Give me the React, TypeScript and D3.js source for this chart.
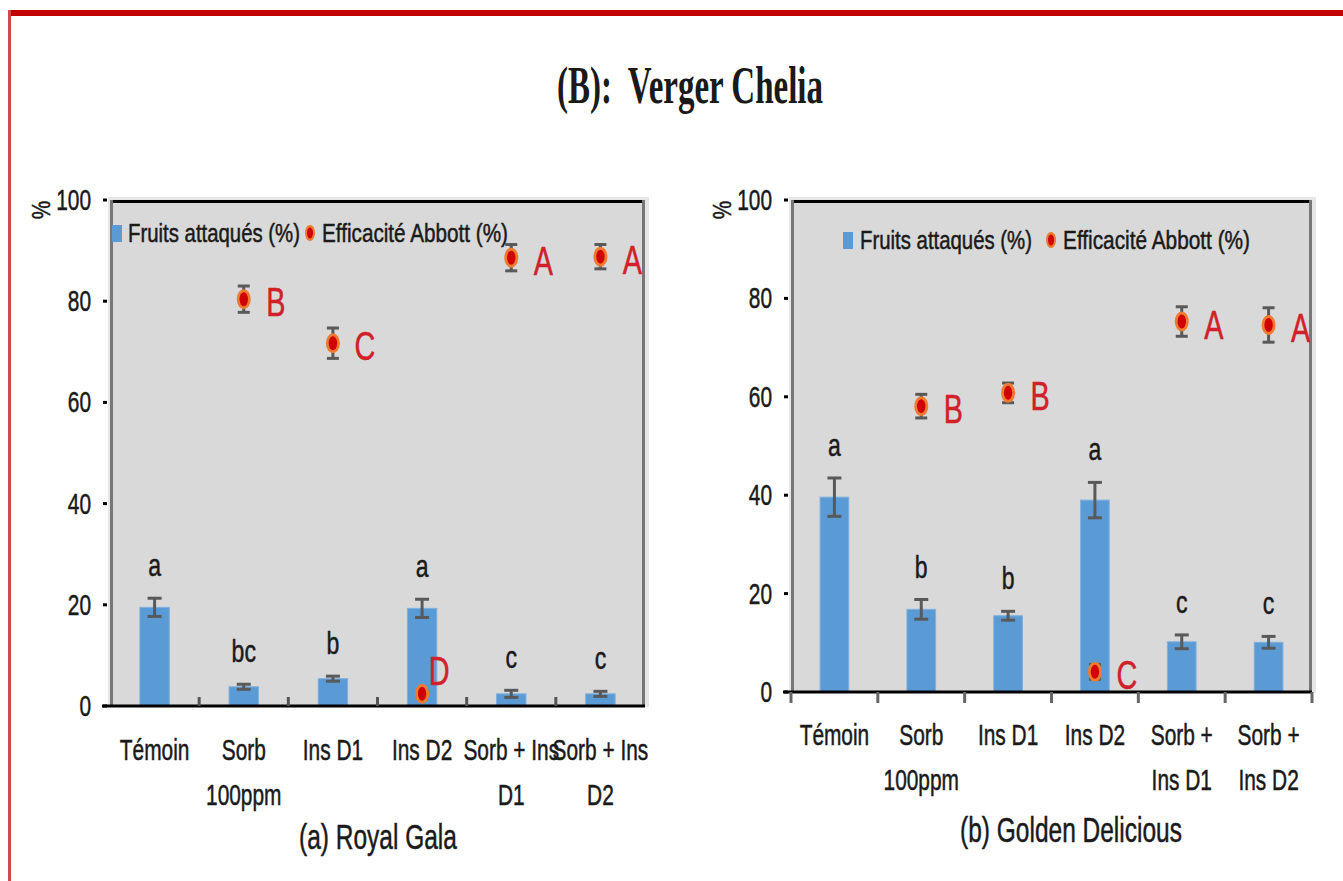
import * as d3 from 'd3';

// Categories (label lines) for each orchard variety
const categoriesRoyal = [['Témoin'], ['Sorb', '100ppm'], ['Ins D1'], ['Ins D2'], ['Sorb + Ins', 'D1'], ['Sorb + Ins', 'D2']];
const categoriesGolden = [['Témoin'], ['Sorb', '100ppm'], ['Ins D1'], ['Ins D2'], ['Sorb +', 'Ins D1'], ['Sorb +', 'Ins D2']];

// (a) Royal Gala
const attackRoyal = [19.5, 3.8, 5.4, 19.3, 2.4, 2.4];
const attackErrRoyal = [1.8, 0.5, 0.5, 1.8, 0.7, 0.5];
const attackLettersRoyal = ['a', 'bc', 'b', 'a', 'c', 'c'];
const abbottRoyal = [null, 80.4, 71.7, 2.4, 88.6, 88.8];
const abbottErrRoyal = [0, 2.6, 3, 0.8, 2.6, 2.4];
const abbottLettersRoyal = ['', 'B', 'C', 'D', 'A', 'A'];

// (b) Golden Delicious
const attackGolden = [39.6, 16.8, 15.5, 39, 10.2, 10.1];
const attackErrGolden = [3.9, 2, 0.9, 3.6, 1.4, 1.2];
const attackLettersGolden = ['a', 'b', 'b', 'a', 'c', 'c'];
const abbottGolden = [null, 58.1, 60.8, 4.1, 75.3, 74.6];
const abbottErrGolden = [0, 2.4, 2, 1.5, 3, 3.5];
const abbottLettersGolden = ['', 'B', 'B', 'C', 'A', 'A'];

const yTicks = [0, 20, 40, 60, 80, 100];
const legendLabels = ['Fruits attaqués (%)', 'Efficacité Abbott (%)'];

const FONT = '"Liberation Sans", Arial, sans-serif';
const SX = 0.72; // the source picture is squeezed horizontally
const BLUE = '#5b9bd5';
const GREY_BG = '#d9d9d9';
const ERR = '#595959';
const RED = '#d0202a';
const INK = '#1a1a1a';

type TxtProps = {
  x: number;
  y: number;
  size: number;
  anchor?: 'start' | 'middle' | 'end';
  fill?: string;
  sx?: number;
  len?: number;
  rotate?: number;
  family?: string;
  weight?: string | number;
  heavy?: number;
  children: string;
};

const Txt = ({ x, y, size, anchor = 'middle', fill = INK, sx = SX, len, rotate = 0, family = FONT, weight = 'normal', heavy = 0.5, children }: TxtProps) => (
  <text
    transform={`translate(${x},${y}) rotate(${rotate}) scale(${len ? 1 : sx},1)`}
    textAnchor={anchor}
    fontSize={size}
    fontFamily={family}
    fontWeight={weight}
    fill={fill}
    stroke={fill}
    strokeWidth={heavy}
    textLength={len}
    lengthAdjust={len ? 'spacingAndGlyphs' : undefined}
    style={{ whiteSpace: 'pre' }}
  >
    {children}
  </text>
);

type PanelProps = {
  x0: number;
  x1: number;
  yTop: number;
  y0: number;
  cats: string[][];
  attack: number[];
  attackErr: number[];
  attackLetters: string[];
  abbott: (number | null)[];
  abbottErr: number[];
  abbottLetters: string[];
  tickOut: boolean;
  legend: { sq: number; t1: number; dot: number; t2: number; y: number; w1: number; w2: number };
  subtitle: string;
  subX: number;
  subY: number;
  catY: number;
  nudges?: Record<number, { dx: number; dy: number }>;
};

const Dot = ({ cx, cy, rx, ry }: { cx: number; cy: number; rx: number; ry: number }) => (
  <g>
    <ellipse cx={cx} cy={cy} rx={rx} ry={ry} fill="#f07a30" />
    <ellipse cx={cx} cy={cy} rx={rx * 0.6} ry={ry * 0.7} fill="#d00000" />
  </g>
);

const Panel = (p: PanelProps) => {
  const idx = p.cats.map((_, i) => String(i));
  const x = d3.scaleBand().domain(idx).range([p.x0, p.x1]).padding(0);
  const y = d3.scaleLinear().domain([0, 100]).range([p.y0, p.yTop]);
  const bw = x.bandwidth() * 0.33;
  const cx = (i: number) => (x(String(i)) ?? 0) + x.bandwidth() / 2;
  const boundaries = p.tickOut ? d3.range(0, p.cats.length + 1) : d3.range(1, p.cats.length);

  return (
    <g>
      {/* plot area */}
      <rect x={p.x0 - 2} y={p.yTop - 3} width={p.x1 - p.x0 + 6} height={p.y0 - p.yTop + 4} fill="#e6e6e6" />
      <rect x={p.x0} y={p.yTop} width={p.x1 - p.x0} height={p.y0 - p.yTop} fill={GREY_BG} />
      <line x1={p.x0} x2={p.x1} y1={p.yTop + 1.5} y2={p.yTop + 1.5} stroke="#000" strokeWidth={3} />
      <line x1={p.x0 + 1.5} x2={p.x0 + 1.5} y1={p.yTop} y2={p.y0} stroke="#777" strokeWidth={3} />
      <line x1={p.x1 - 1.5} x2={p.x1 - 1.5} y1={p.yTop} y2={p.y0} stroke="#777" strokeWidth={3} />

      {/* y axis ticks + labels */}
      {yTicks.map((t) => (
        <g key={t}>
          <line x1={p.x0 - 7} x2={p.x0 - 3} y1={y(t)} y2={y(t)} stroke="#000" strokeWidth={3} />
          <Txt x={p.x0 - 19} y={y(t) + 10} size={29} anchor="end">{String(t)}</Txt>
        </g>
      ))}
      <Txt x={p.x0 - 78} y={p.yTop + 10} size={26} rotate={90} sx={0.8}>%</Txt>

      {/* bars */}
      {p.attack.map((v, i) => (
        <rect key={i} x={cx(i) - bw / 2} y={y(v)} width={bw} height={p.y0 - y(v)} fill={BLUE} stroke="#7fb0de" strokeWidth={1} />
      ))}
      {p.attack.map((v, i) => (
        <g key={i} stroke={ERR} strokeWidth={3}>
          <line x1={cx(i)} x2={cx(i)} y1={y(v + p.attackErr[i])} y2={y(v - p.attackErr[i])} />
          <line x1={cx(i) - 7} x2={cx(i) + 7} y1={y(v + p.attackErr[i])} y2={y(v + p.attackErr[i])} />
          <line x1={cx(i) - 7} x2={cx(i) + 7} y1={y(v - p.attackErr[i])} y2={y(v - p.attackErr[i])} />
        </g>
      ))}
      {p.attack.map((v, i) => (
        <Txt key={i} x={cx(i)} y={y(v + p.attackErr[i]) - 22} size={32}>{p.attackLetters[i]}</Txt>
      ))}

      {/* x axis */}
      <line x1={p.x0 - 8} x2={p.x1} y1={p.y0} y2={p.y0} stroke="#000" strokeWidth={3} />
      {boundaries.map((b) => {
        const bx = p.x0 + b * x.step();
        return p.tickOut ? (
          <line key={b} x1={bx} x2={bx} y1={p.y0} y2={p.y0 + 11} stroke="#666" strokeWidth={3} />
        ) : (
          <line key={b} x1={bx} x2={bx} y1={p.y0} y2={p.y0 - 9} stroke="#555" strokeWidth={3} />
        );
      })}
      {p.cats.map((lines, i) =>
        lines.map((l, j) => (
          <Txt key={`${i}-${j}`} x={cx(i)} y={p.catY + j * 45} size={29}>{l}</Txt>
        ))
      )}

      {/* Abbott efficacy points */}
      {p.abbott.map((v, i) => {
        if (v === null) return null;
        const e = p.abbottErr[i];
        const n = p.nudges?.[i] ?? { dx: 32, dy: 0 };
        return (
          <g key={i}>
            <g stroke={ERR} strokeWidth={3}>
              <line x1={cx(i)} x2={cx(i)} y1={y(v + e)} y2={y(v - e)} />
              <line x1={cx(i) - 6} x2={cx(i) + 6} y1={y(v + e)} y2={y(v + e)} />
              <line x1={cx(i) - 6} x2={cx(i) + 6} y1={y(v - e)} y2={y(v - e)} />
            </g>
            <Dot cx={cx(i)} cy={y(v)} rx={7} ry={10} />
            <Txt x={cx(i) + n.dx} y={y(v) + 17 + n.dy} size={40} fill={RED}>{p.abbottLetters[i]}</Txt>
          </g>
        );
      })}

      {/* legend */}
      <rect x={p.legend.sq} y={p.legend.y - 8} width={10} height={17} fill={BLUE} />
      <Txt x={p.legend.t1} y={p.legend.y + 9} size={26} anchor="start" len={p.legend.w1}>{legendLabels[0]}</Txt>
      <Dot cx={p.legend.dot} cy={p.legend.y} rx={5} ry={8} />
      <Txt x={p.legend.t2} y={p.legend.y + 9} size={26} anchor="start" len={p.legend.w2}>{legendLabels[1]}</Txt>

      <Txt x={p.subX} y={p.subY} size={35} sx={0.7}>{p.subtitle}</Txt>
    </g>
  );
};

export default function App() {
  return (
    <div style={{ position: 'absolute', left: 0, top: 0 }}>
      <svg width={1343} height={881} style={{ display: 'block', background: '#fff' }}>
        {/* red frame */}
        <rect x={9} y={10} width={1334} height={6} fill="#c00000" />
        <rect x={8} y={10} width={3} height={871} fill="#d04848" />

        <Txt x={557} y={103} size={52} anchor="start" len={266} family='"Liberation Serif", "Times New Roman", serif' weight="bold" heavy={0}>
          {'(B):  Verger Chelia'}
        </Txt>

        <Panel
          x0={110}
          x1={645}
          yTop={200}
          y0={706}
          cats={categoriesRoyal}
          attack={attackRoyal}
          attackErr={attackErrRoyal}
          attackLetters={attackLettersRoyal}
          abbott={abbottRoyal}
          abbottErr={abbottErrRoyal}
          abbottLetters={abbottLettersRoyal}
          tickOut={false}
          legend={{ sq: 112, t1: 128, w1: 172, dot: 310, t2: 322, w2: 186, y: 233 }}
          subtitle="(a) Royal Gala"
          subX={378}
          subY={849}
          catY={760}
          nudges={{ 3: { dx: 17, dy: -26 } }}
        />
        <Panel
          x0={791}
          x1={1312}
          yTop={200}
          y0={692}
          cats={categoriesGolden}
          attack={attackGolden}
          attackErr={attackErrGolden}
          attackLetters={attackLettersGolden}
          abbott={abbottGolden}
          abbottErr={abbottErrGolden}
          abbottLetters={abbottLettersGolden}
          tickOut={true}
          legend={{ sq: 843, t1: 860, w1: 172, dot: 1051, t2: 1063, w2: 187, y: 240 }}
          subtitle="(b) Golden Delicious"
          subX={1071}
          subY={842}
          catY={745}
        />
      </svg>
    </div>
  );
}
